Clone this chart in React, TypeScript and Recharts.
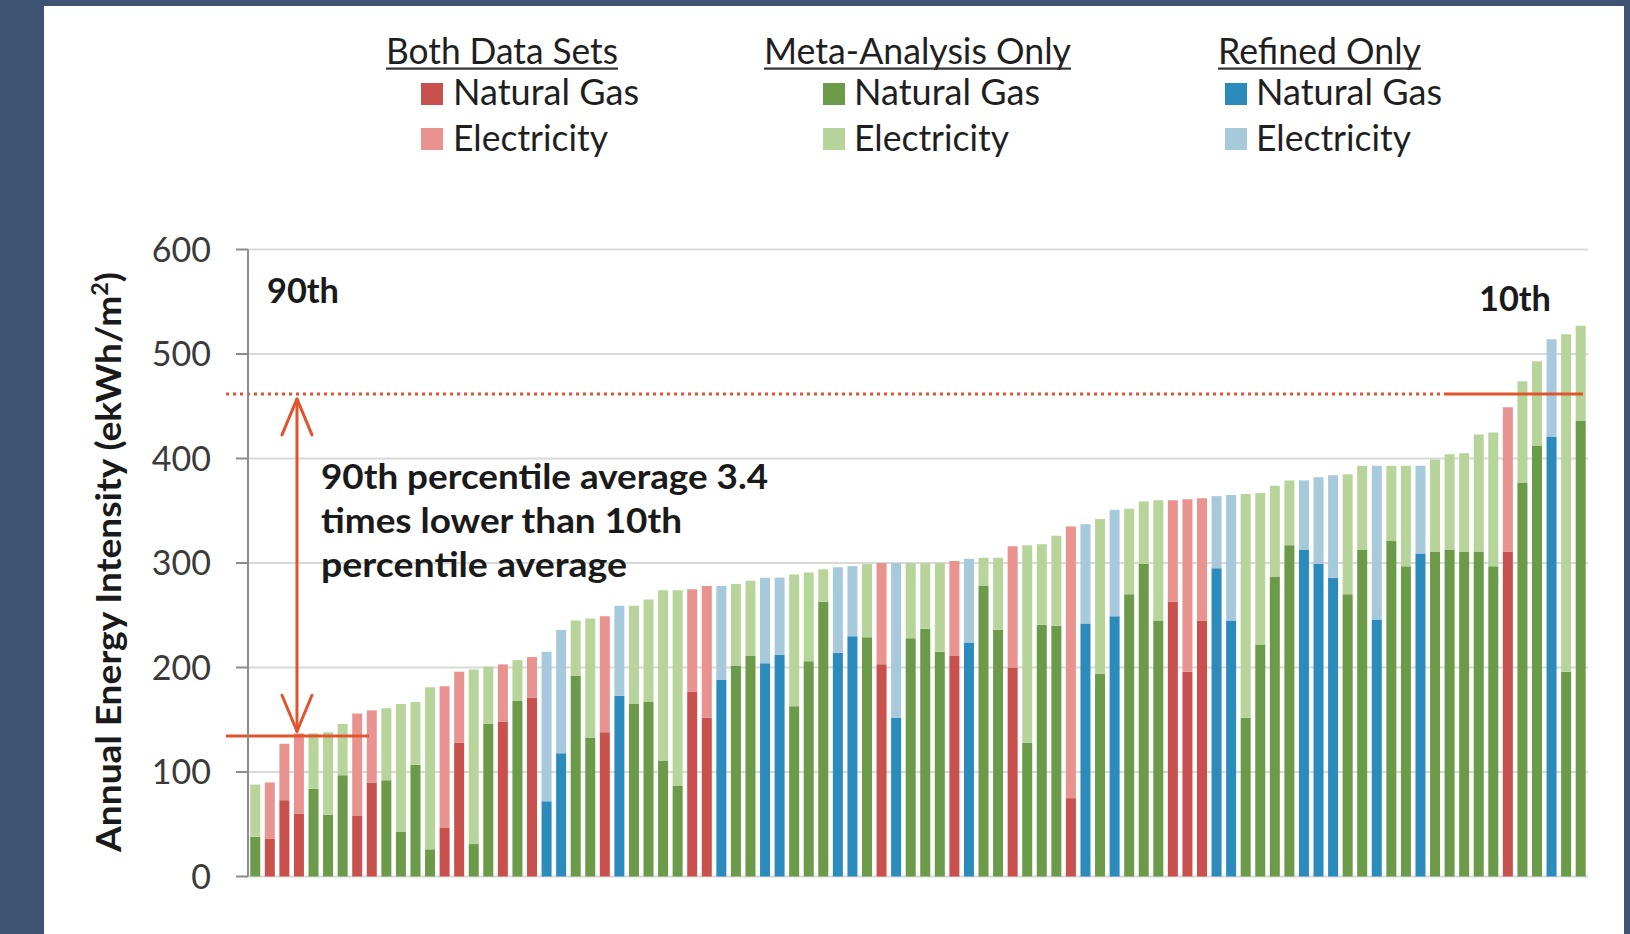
import React from 'react';
import { BarChart, Bar, XAxis, YAxis, CartesianGrid, Cell, ReferenceLine } from 'recharts';

// ---------- data ----------
const buildings = [
  'B1','B2','B3','B4','B5','B6','B7','B8','B9','B10',
  'B11','B12','B13','B14','B15','B16','B17','B18','B19','B20',
  'B21','B22','B23','B24','B25','B26','B27','B28','B29','B30',
  'B31','B32','B33','B34','B35','B36','B37','B38','B39','B40',
  'B41','B42','B43','B44','B45','B46','B47','B48','B49','B50',
  'B51','B52','B53','B54','B55','B56','B57','B58','B59','B60',
  'B61','B62','B63','B64','B65','B66','B67','B68','B69','B70',
  'B71','B72','B73','B74','B75','B76','B77','B78','B79','B80',
  'B81','B82','B83','B84','B85','B86','B87','B88','B89','B90',
  'B91','B92',
];

// which data set each building comes from
const dataSets = [
  'Meta','Both','Both','Both','Meta','Meta','Meta','Both','Both','Meta',
  'Meta','Meta','Meta','Both','Both','Meta','Meta','Both','Meta','Both',
  'Refined','Refined','Meta','Meta','Both','Refined','Meta','Meta','Meta','Meta',
  'Both','Both','Refined','Meta','Meta','Refined','Refined','Meta','Meta','Meta',
  'Refined','Refined','Meta','Both','Refined','Meta','Meta','Meta','Both','Refined',
  'Meta','Meta','Both','Meta','Meta','Meta','Both','Refined','Meta','Refined',
  'Meta','Meta','Meta','Both','Both','Both','Refined','Refined','Meta','Meta',
  'Meta','Meta','Refined','Refined','Refined','Meta','Meta','Refined','Meta','Meta',
  'Refined','Meta','Meta','Meta','Meta','Meta','Both','Meta','Meta','Refined',
  'Meta','Meta',
];

// natural gas intensity (ekWh/m2)
const naturalGas = [
  38, 36, 73, 60, 84, 59, 97, 58, 90, 92,
  43, 107, 26, 47, 128, 31, 146, 148, 168, 171,
  72, 118, 192, 133, 138, 173, 165, 167, 111, 87,
  177, 152, 188, 202, 211, 204, 212, 163, 206, 263,
  214, 230, 229, 203, 152, 228, 237, 215, 211, 224,
  278, 236, 200, 128, 241, 240, 75, 242, 194, 249,
  270, 299, 245, 263, 196, 245, 295, 245, 152, 222,
  287, 317, 313, 299, 286, 270, 313, 246, 321, 297,
  309, 311, 313, 311, 311, 297, 311, 377, 412, 421,
  196, 436,
];

// electricity intensity (ekWh/m2)
const electricity = [
  50, 54, 54, 77, 53, 79, 49, 98, 69, 69,
  122, 60, 155, 135, 68, 167, 55, 55, 39, 39,
  143, 118, 53, 114, 111, 86, 94, 98, 163, 187,
  98, 126, 90, 78, 72, 82, 74, 126, 85, 31,
  82, 67, 70, 97, 148, 72, 63, 85, 91, 80,
  27, 69, 116, 189, 77, 86, 260, 95, 148, 102,
  82, 60, 115, 97, 165, 117, 69, 120, 214, 145,
  87, 62, 66, 83, 98, 115, 80, 147, 72, 96,
  84, 88, 91, 94, 112, 128, 138, 97, 81, 93,
  323, 91,
];

const yTicks = [0, 100, 200, 300, 400, 500, 600];
const p90Average = 134.4;
const p10Average = 461.7;
const arrowBuilding = 'B4';
const arrowTop = 457;
const arrowBottom = 139;

const gasColors: Record<string, string> = { Both: '#c8514e', Meta: '#6b9a49', Refined: '#2b8bbd' };
const elecColors: Record<string, string> = { Both: '#e8938f', Meta: '#b7d59b', Refined: '#a6c9db' };

const legendGroups = [
  { title: 'Both Data Sets', key: 'Both' },
  { title: 'Meta-Analysis Only', key: 'Meta' },
  { title: 'Refined Only', key: 'Refined' },
];

const chartData = buildings.map((b, i) => ({
  name: b,
  set: dataSets[i],
  gas: naturalGas[i],
  elec: electricity[i],
}));

// ---------- styling / layout ----------
const W = 1630;
const H = 934;
const NAVY = '#3e5272';
const ORANGE = '#e0542e';
const FONT = 'Lato, "Open Sans", sans-serif';

const DottedTenthLine = (props: any) => {
  const { x1, y1, x2 } = props;
  return (
    <g>
      <line x1={x1 - 22} y1={y1} x2={x2 - 143} y2={y1} stroke={ORANGE} strokeWidth={3} strokeDasharray="3 4" />
      <line x1={x2 - 143} y1={y1} x2={x2 - 5} y2={y1} stroke={ORANGE} strokeWidth={3} />
    </g>
  );
};

const NinetiethLine = (props: any) => {
  const { x1, y1 } = props;
  return <line x1={x1 - 22} y1={y1} x2={x1 + 121} y2={y1} stroke={ORANGE} strokeWidth={3} />;
};

const DoubleArrow = (props: any) => {
  const { x1, y1, y2 } = props;
  const x = x1 - 2;
  const top = Math.min(y1, y2);
  const bot = Math.max(y1, y2);
  return (
    <g stroke={ORANGE} strokeWidth={3} fill="none" strokeLinecap="round" strokeLinejoin="round">
      <line x1={x} y1={top} x2={x} y2={bot} />
      <polyline points={`${x - 15},${top + 36} ${x},${top} ${x + 15},${top + 36}`} />
      <polyline points={`${x - 15},${bot - 36} ${x},${bot} ${x + 15},${bot - 36}`} />
    </g>
  );
};

const legendX = [
  { header: 386, headerLen: 232, swatch: 421, text: 453 },
  { header: 764, headerLen: 307, swatch: 823, text: 854 },
  { header: 1218, headerLen: 203, swatch: 1225, text: 1256 },
];

export default function App() {
  return (
    <div style={{ position: 'fixed', left: 0, top: 0, width: W, height: H, background: NAVY, overflow: 'hidden' }}>
      <div style={{ position: 'absolute', left: 44, top: 6, width: 1580, height: 928, background: '#ffffff' }} />
      <div style={{ position: 'absolute', left: 0, top: 0 }}>
        <BarChart
          width={W}
          height={H}
          data={chartData}
          margin={{ top: 249.5, right: 42, bottom: 57.5, left: 148 }}
          barCategoryGap="15.5%"
          style={{ fontFamily: FONT }}
        >
          <CartesianGrid vertical={false} stroke="#d9d9d9" strokeWidth={2} />
          <XAxis dataKey="name" hide />
          <YAxis
            width={100}
            domain={[0, 600]}
            ticks={yTicks}
            interval={0}
            axisLine={{ stroke: '#8c8c8c', strokeWidth: 2 }}
            tickLine={{ stroke: '#8c8c8c', strokeWidth: 2 }}
            tickSize={12}
            tickMargin={25}
            tick={{ fontSize: 34, fill: '#3a3a3a', fontFamily: FONT }}
          />
          <Bar dataKey="gas" stackId="a" isAnimationActive={false}>
            {chartData.map((d, i) => (
              <Cell key={`g${i}`} fill={gasColors[d.set]} />
            ))}
          </Bar>
          <Bar dataKey="elec" stackId="a" isAnimationActive={false}>
            {chartData.map((d, i) => (
              <Cell key={`e${i}`} fill={elecColors[d.set]} />
            ))}
          </Bar>
          <ReferenceLine y={p10Average} shape={DottedTenthLine} />
          <ReferenceLine y={p90Average} shape={NinetiethLine} />
          <ReferenceLine
            segment={[
              { x: arrowBuilding, y: arrowTop },
              { x: arrowBuilding, y: arrowBottom },
            ]}
            shape={DoubleArrow}
          />
        </BarChart>
      </div>
      <svg
        width={W}
        height={H}
        style={{ position: 'absolute', left: 0, top: 0, pointerEvents: 'none' }}
        fontFamily={FONT}
      >
        {legendGroups.map((g, i) => {
          const p = legendX[i];
          return (
            <g key={g.key} fill="#1f1f1f">
              <text x={p.header} y={63.5} fontSize={36} textLength={p.headerLen} lengthAdjust="spacingAndGlyphs">
                {g.title}
              </text>
              <rect x={p.header} y={67.5} width={p.headerLen} height={2.2} fill="#333" />
              <rect x={p.swatch} y={83} width={22} height={22} fill={gasColors[g.key]} />
              <text x={p.text} y={105} fontSize={36} textLength={186} lengthAdjust="spacingAndGlyphs">
                Natural Gas
              </text>
              <rect x={p.swatch} y={128} width={22} height={22} fill={elecColors[g.key]} />
              <text x={p.text} y={150.5} fontSize={36} textLength={155} lengthAdjust="spacingAndGlyphs">
                Electricity
              </text>
            </g>
          );
        })}

        <text x={267} y={302.5} fontSize={34} fontWeight="bold" fill="#1a1a1a" textLength={72} lengthAdjust="spacingAndGlyphs">
          90th
        </text>
        <text x={1479} y={311} fontSize={34} fontWeight="bold" fill="#1a1a1a" textLength={72} lengthAdjust="spacingAndGlyphs">
          10th
        </text>

        <g fontSize={34} fontWeight="bold" fill="#1a1a1a">
          <text x={321} y={488.5} textLength={447} lengthAdjust="spacingAndGlyphs">90th percentile average 3.4</text>
          <text x={321} y={533} textLength={361} lengthAdjust="spacingAndGlyphs">times lower than 10th</text>
          <text x={321} y={577} textLength={306} lengthAdjust="spacingAndGlyphs">percentile average</text>
        </g>

        <text
          transform="translate(121, 562) rotate(-90)"
          textAnchor="middle"
          fontSize={35}
          fontWeight="bold"
          fill="#1a1a1a"
          textLength={580}
          lengthAdjust="spacingAndGlyphs"
        >
          Annual Energy Intensity (ekWh/m<tspan fontSize={22} dy={-13}>2</tspan><tspan dy={13}>)</tspan>
        </text>
      </svg>
    </div>
  );
}
